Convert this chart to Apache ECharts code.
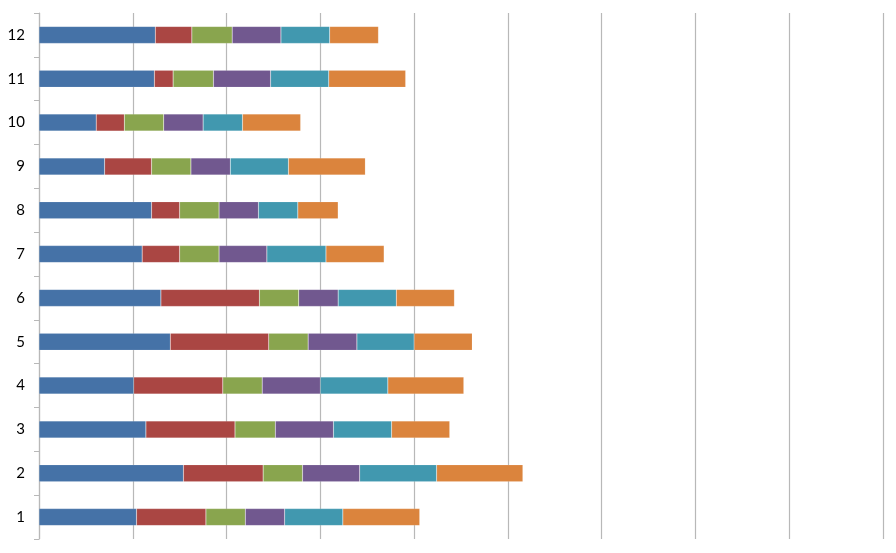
<!DOCTYPE html>
<html>
<head>
<meta charset="utf-8">
<script src="https://cdn.jsdelivr.net/npm/echarts@6/dist/echarts.min.js"></script>
<style>html,body{margin:0;padding:0;background:#fff}#c{width:896px;height:553px}</style>
</head>
<body>
<div id="c"></div>
<script>
var categories = ['1','2','3','4','5','6','7','8','9','10','11','12'];
var s1 = [10.4, 15.4, 11.4, 10.1, 14.0, 13.0, 11.0, 12.0, 7.0, 6.1, 12.3, 12.4];
var s2 = [7.4, 8.5, 9.5, 9.5, 10.5, 10.5, 4.0, 3.0, 5.0, 3.0, 2.0, 3.9];
var s3 = [4.2, 4.2, 4.3, 4.2, 4.2, 4.2, 4.2, 4.2, 4.2, 4.2, 4.3, 4.3];
var s4 = [4.2, 6.1, 6.2, 6.2, 5.2, 4.2, 5.1, 4.2, 4.2, 4.2, 6.1, 5.2];
var s5 = [6.2, 8.2, 6.2, 7.2, 6.1, 6.2, 6.3, 4.2, 6.2, 4.2, 6.2, 5.2];
var s6 = [8.2, 9.2, 6.2, 8.1, 6.2, 6.2, 6.2, 4.3, 8.2, 6.2, 8.2, 5.2];
var seriesData = [s1, s2, s3, s4, s5, s6];
var colors = ['#4572A7', '#AA4643', '#89A54E', '#71588F', '#4198AF', '#DB843D'];

var chart = echarts.init(document.getElementById('c'));
chart.setOption({
  animation: false,
  grid: {left: 39, right: 13, top: 13, bottom: 14, containLabel: false},
  xAxis: {
    type: 'value', min: 0, max: 90, interval: 10,
    axisLabel: {show: false},
    axisLine: {show: false},
    axisTick: {show: false},
    splitLine: {show: true, lineStyle: {color: '#b8b8b8', width: 1.2}}
  },
  yAxis: {
    type: 'category', data: categories,
    axisLine: {show: true, lineStyle: {color: '#b8b8b8', width: 1.2}},
    axisTick: {show: true, length: 5, lineStyle: {color: '#b8b8b8'}},
    axisLabel: {color: '#000', fontSize: 15, fontFamily: 'Lato, "Liberation Sans", sans-serif', margin: 14}
  },
  series: seriesData.map(function (d, i) {
    return {
      type: 'bar', stack: 'all', data: d, barWidth: 17,
      itemStyle: {color: colors[i], borderColor: 'rgba(255,255,255,0.25)', borderWidth: 0.5}
    };
  })
});
</script>
</body>
</html>
